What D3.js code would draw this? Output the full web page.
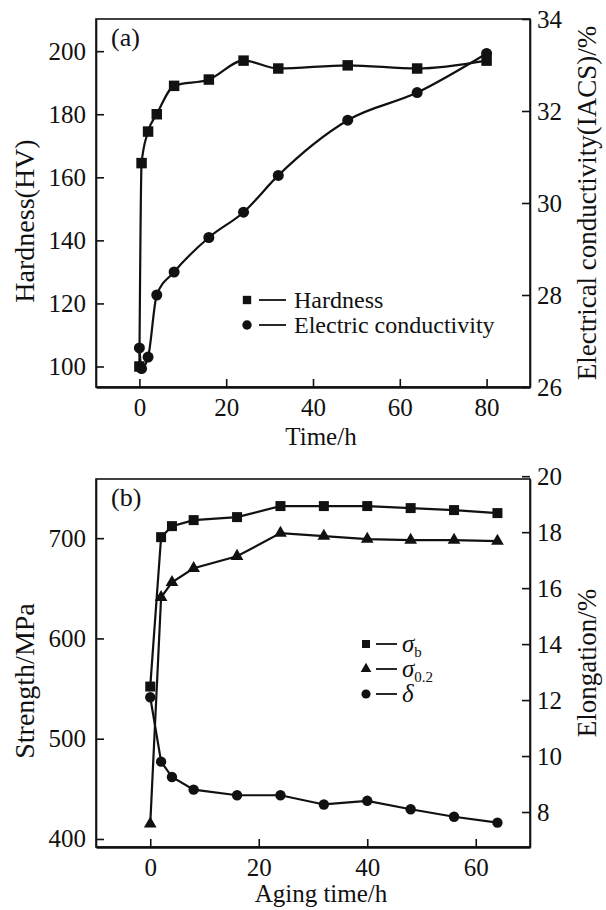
<!DOCTYPE html>
<html>
<head>
<meta charset="utf-8">
<script src="https://cdn.jsdelivr.net/npm/d3@7"></script>
<style>
  body { margin: 0; background: #fff; }
  svg text { font-family: "Liberation Serif", "Times New Roman", serif; fill: #111; }
</style>
</head>
<body>
<svg id="chart" width="606" height="910"></svg>
<script>
// (a) hardness and electrical conductivity vs ageing time
var timeA = [0, 0.5, 2, 4, 8, 16, 24, 32, 48, 64, 80];
var hardness = [100, 164.5, 174.5, 180, 189, 191, 197, 194.5, 195.5, 194.5, 197];
var conductivity = [26.85, 26.4, 26.65, 28.0, 28.5, 29.25, 29.8, 30.6, 31.8, 32.4, 33.25];
var legendA = ["Hardness", "Electric conductivity"];

// (b) strength and elongation vs ageing time
var timeB = [0, 2, 4, 8, 16, 24, 32, 40, 48, 56, 64];
var sigmaB = [552, 701, 712, 718, 721, 732, 732, 732, 730, 728, 725];
var sigma02 = [415, 641, 656, 670, 682, 705, 702, 699, 698, 698, 697];
var elongation = [12.1, 9.8, 9.25, 8.8, 8.6, 8.6, 8.27, 8.4, 8.1, 7.83, 7.62];
var legendB = [["σ", "b"], ["σ", "0.2"], ["δ", ""]];

var ticksAx = [0, 20, 40, 60, 80];
var ticksAl = [100, 120, 140, 160, 180, 200];
var ticksAr = [26, 28, 30, 32, 34];
var ticksBx = [0, 20, 40, 60];
var ticksBl = [400, 500, 600, 700];
var ticksBr = [8, 10, 12, 14, 16, 18, 20];

var svg = d3.select("#chart");
svg.append("rect").attr("width", 606).attr("height", 910).attr("fill", "#fff");

var left = 96, right = 530;
var ink = "#111";

function panel(o) {
  var g = svg.append("g");
  var x = d3.scaleLinear().domain(o.xDomain).range([left, right]);
  var yL = d3.scaleLinear().domain(o.lDomain).range([o.bottom, o.top]);
  var yR = d3.scaleLinear().domain(o.rDomain).range([o.bottom, o.top]);

  g.append("rect")
    .attr("x", left).attr("y", o.top)
    .attr("width", right - left).attr("height", o.bottom - o.top)
    .attr("fill", "none").attr("stroke", ink).attr("stroke-width", 1.6);

  var xa = g.append("g").attr("transform", "translate(0," + o.bottom + ")")
    .call(d3.axisBottom(x).tickValues(o.xTicks).tickSizeInner(-8).tickSizeOuter(0).tickPadding(11));
  var la = g.append("g").attr("transform", "translate(" + left + ",0)")
    .call(d3.axisLeft(yL).tickValues(o.lTicks).tickSizeInner(-8).tickSizeOuter(0).tickPadding(10));
  var ra = g.append("g").attr("transform", "translate(" + right + ",0)")
    .call(d3.axisRight(yR).tickValues(o.rTicks).tickSizeInner(-8).tickSizeOuter(0).tickPadding(7));

  [xa, la, ra].forEach(function(a) {
    a.select(".domain").attr("stroke", ink).attr("stroke-width", 1.6);
    a.selectAll(".tick line").attr("stroke", ink).attr("stroke-width", 1.6);
    a.selectAll(".tick text").attr("font-size", 25).attr("fill", ink);
  });
  xa.select(".domain").attr("stroke-width", 2.4);

  // panel label
  g.append("text").attr("x", 111).attr("y", o.top + 27).attr("font-size", 26).text(o.tag);

  // axis titles
  g.append("text").attr("x", (left + right) / 2 + 8).attr("y", o.bottom + o.xTitleGap)
    .attr("text-anchor", "middle").attr("font-size", 25).text(o.xTitle);
  g.append("text").attr("transform", "translate(24," + ((o.top + o.bottom) / 2 + 18) + ") rotate(-90)")
    .attr("text-anchor", "middle").attr("dy", "0.35em").attr("font-size", 28).text(o.lTitle);
  g.append("text").attr("transform", "translate(587," + ((o.top + o.bottom) / 2) + ") rotate(-90)")
    .attr("text-anchor", "middle").attr("dy", "0.35em").attr("font-size", 27).text(o.rTitle);

  return { g: g, x: x, yL: yL, yR: yR };
}

function series(p, xs, ys, scale, curve, shape, size) {
  var pts = xs.map(function(t, i) { return [p.x(t), scale(ys[i])]; });
  p.g.append("path")
    .attr("d", d3.line().curve(curve)(pts))
    .attr("fill", "none").attr("stroke", ink).attr("stroke-width", 2.2);
  p.g.selectAll(null).data(pts).enter().append("path")
    .attr("transform", function(d) { return "translate(" + d[0] + "," + d[1] + ")"; })
    .attr("d", d3.symbol().type(shape).size(size))
    .attr("fill", ink);
}

// ---- (a)
var pa = panel({
  top: 19, bottom: 387, tag: "(a)", xTitleGap: 58,
  xDomain: [-10, 90], lDomain: [93.5, 210.2], rDomain: [26, 34],
  xTicks: ticksAx, lTicks: ticksAl, rTicks: ticksAr,
  xTitle: "Time/h", lTitle: "Hardness(HV)", rTitle: "Electrical conductivity(IACS)/%"
});
series(pa, timeA, hardness, pa.yL, d3.curveMonotoneX, d3.symbolSquare, 110);
series(pa, timeA, conductivity, pa.yR, d3.curveMonotoneX, d3.symbolCircle, 95);

var legA = pa.g.append("g");
legendA.forEach(function(name, i) {
  var cy = 300 + i * 25;
  legA.append("path").attr("transform", "translate(247," + cy + ")")
    .attr("d", d3.symbol().type(i === 0 ? d3.symbolSquare : d3.symbolCircle).size(70))
    .attr("fill", ink);
  legA.append("line").attr("x1", 259).attr("x2", 286).attr("y1", cy).attr("y2", cy)
    .attr("stroke", ink).attr("stroke-width", 1.8);
  legA.append("text").attr("x", 294).attr("y", cy).attr("dy", "0.33em")
    .attr("font-size", 24).text(name);
});

// ---- (b)
var pb = panel({
  top: 479, bottom: 847, tag: "(b)", xTitleGap: 55,
  xDomain: [-10, 70], lDomain: [392, 759], rDomain: [6.75, 19.9],
  xTicks: ticksBx, lTicks: ticksBl, rTicks: ticksBr,
  xTitle: "Aging time/h", lTitle: "Strength/MPa", rTitle: "Elongation/%"
});
series(pb, timeB, sigmaB, pb.yL, d3.curveLinear, d3.symbolSquare, 100);
series(pb, timeB, sigma02, pb.yL, d3.curveLinear, d3.symbolTriangle, 70);
series(pb, timeB, elongation, pb.yR, d3.curveLinear, d3.symbolCircle, 85);

var legB = pb.g.append("g");
var legShapes = [d3.symbolSquare, d3.symbolTriangle, d3.symbolCircle];
legendB.forEach(function(lab, i) {
  var cy = 644 + i * 25;
  legB.append("path").attr("transform", "translate(366," + cy + ")")
    .attr("d", d3.symbol().type(legShapes[i]).size(i === 1 ? 50 : 65))
    .attr("fill", ink);
  legB.append("line").attr("x1", 376).attr("x2", 397).attr("y1", cy).attr("y2", cy)
    .attr("stroke", ink).attr("stroke-width", 1.8);
  var t = legB.append("text").attr("x", 402).attr("y", cy).attr("dy", "0.33em").attr("font-size", 25);
  t.append("tspan").attr("font-style", "italic").text(lab[0]);
  if (lab[1]) t.append("tspan").attr("font-size", 15).attr("dy", "0.3em").text(lab[1]);
});
</script>
</body>
</html>
